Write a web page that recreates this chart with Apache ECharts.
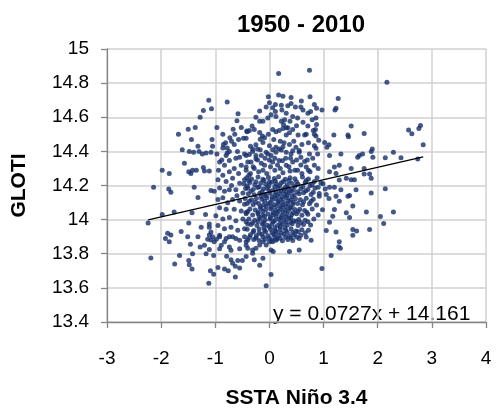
<!DOCTYPE html>
<html>
<head>
<meta charset="utf-8">
<script src="https://cdn.jsdelivr.net/npm/echarts@6/dist/echarts.min.js"></script>
<style>
  html, body { margin: 0; padding: 0; background: #ffffff; }
  #chart { width: 497px; height: 414px; }
</style>
</head>
<body>
<div id="chart"></div>
<script>
// Monthly pairs [SSTA Niño 3.4 (°C), GLOTI (°C)], 1950-2010, grouped by ENSO phase.
const laNinaMonths = [
  [-1.12,14.70],[-0.78,14.69],[-1.22,14.64],[-1.07,14.65],[-1.28,14.60],[-0.58,14.62],[-0.60,14.58],
  [-0.97,14.54],[-1.37,14.54],[-1.50,14.53],[-1.68,14.50],[-1.44,14.47],[-1.06,14.47],[-0.86,14.50],
  [-0.67,14.53],[-0.73,14.48],[-0.85,14.44],[-0.81,14.45],[-0.86,14.42],[-0.78,14.42],[-0.74,14.40],
  [-1.32,14.43],[-1.61,14.41],[-1.48,14.40],[-1.05,14.43],[-0.65,14.44],[-0.59,14.40],[-0.78,14.39],
  [-0.52,14.54],[-1.40,14.395],[-1.30,14.40],[-1.24,14.385],[-1.17,14.39],[-1.08,14.395],
  [-1.57,14.33],[-1.98,14.29],[-1.85,14.27],[-1.49,14.28],[-1.42,14.29],[-1.35,14.29],[-1.45,14.27],
  [-1.22,14.305],[-1.20,14.285],[-1.11,14.285],[-2.14,14.19],[-1.86,14.18],[-1.82,14.16],[-1.39,14.19],
  [-1.32,14.13],[-1.08,14.17],[-1.76,14.045],[-1.98,14.03],[-1.43,14.04],[-1.18,14.03],[-2.24,13.98],
  [-1.49,13.98],[-1.26,13.955],[-1.11,13.955],[-1.88,13.92],[-1.82,13.91],[-1.92,13.89],[-1.85,13.87],
  [-1.63,13.93],[-1.51,13.90],[-1.32,13.90],[-1.11,13.91],[-1.14,13.885],
  [-2.19,13.775],[-1.46,13.855],[-1.75,13.74],[-1.66,13.79],[-1.49,13.76],[-1.48,13.735],[-1.43,13.71],
  [-1.42,13.80],[-1.28,13.84],[-1.20,13.85],[-1.11,13.825],[-1.17,13.80],[-1.08,13.88],[-1.05,13.90],
  [-0.98,13.885],[-0.92,13.90],[-1.03,13.79],[-1.09,13.70],[-1.03,13.68],[-1.12,13.627],[-0.95,13.72],
  [-0.83,13.71],[-0.76,13.70],[-0.92,13.83],[-0.89,13.85],[-0.83,13.87],[-0.74,13.84],[-0.71,13.82],
  [-0.79,13.785],[-0.71,13.765],[-0.68,13.745],[-0.63,13.727],[-0.585,13.76],[-0.50,13.76],[-0.55,13.717],
  [-0.63,13.664],[-0.74,13.90],[-0.62,13.89],[-0.55,13.83],
  [-0.97,14.385],[-0.80,14.376],[-0.74,14.347],[-0.55,14.366],[-0.92,14.338],[-0.83,14.319],
  [-0.94,14.29],[-0.86,14.26],[-0.74,14.28],[-0.65,14.30],[-0.52,14.319],[-0.95,14.233],[-0.80,14.223],
  [-0.68,14.242],[-0.55,14.213],[-0.92,14.185],[-1.02,14.166],[-0.83,14.166],[-0.74,14.175],[-0.62,14.175],
  [-0.95,14.118],[-0.86,14.128],[-0.77,14.099],[-0.68,14.118],[-0.55,14.109],[-0.92,14.07],[-0.80,14.061],
  [-0.65,14.061],[-0.52,14.051],[-0.99,14.023],[-0.86,14.004],[-0.74,14.013],[-0.62,13.994],[-0.95,13.965],
  [-0.83,13.946],[-0.71,13.956],[-0.585,13.937],[-1.08,13.927],[-0.92,13.908],[-0.80,13.889],[-0.68,13.899],
  [-0.55,13.879],[-1.02,13.87],[-1.11,13.975],
  [-0.70,14.46],[-0.62,14.36],[-0.57,14.27],[-0.70,14.20],[-0.60,14.14],[-0.88,14.35],[-0.64,14.50],
  [-0.57,14.47]
];

const neutralMonths = [
  [0.17,14.857],[-0.02,14.72],[0.17,14.73],[0.25,14.723],[0.40,14.716],[0.00,14.685],[0.11,14.675],
  [0.22,14.67],[0.34,14.668],[0.40,14.68],[-0.06,14.66],[-0.18,14.637],[0.06,14.656],[0.11,14.634],
  [0.23,14.643],[0.31,14.624],[0.43,14.605],[0.38,14.576],[0.03,14.614],[0.12,14.605],[-0.12,14.576],
  [-0.03,14.595],[-0.18,14.576],[0.22,14.576],[0.28,14.585],[0.26,14.557],[0.31,14.538],[-0.32,14.548],
  [-0.28,14.528],[-0.37,14.523],[-0.42,14.519],[-0.18,14.51],[-0.13,14.49],[-0.09,14.48],[-0.17,14.471],
  [-0.12,14.452],[0.06,14.528],[0.12,14.515],[0.18,14.523],[0.25,14.534],[0.34,14.538],[0.43,14.528],
  [0.37,14.509],[0.31,14.496],[-0.48,14.477],[-0.43,14.477],[-0.25,14.439],[-0.31,14.414],[-0.37,14.382],
  [-0.43,14.376],[-0.25,14.376],[0.00,14.433],[0.12,14.424],[0.18,14.414],[0.25,14.427],[0.31,14.395],
  [0.40,14.385],[0.49,14.424],[-0.03,14.385],[0.03,14.376],[-0.41,14.515],
  [-0.46,14.385],[-0.40,14.338],[-0.43,14.29],[-0.46,14.233],[-0.38,14.26],[-0.49,14.156],[-0.40,14.185],
  [-0.46,14.09],[-0.43,14.042],[-0.49,14.004],[-0.40,13.975],[-0.46,13.946],[-0.43,13.87],
  [-0.31,14.40],[-0.22,14.414],[-0.34,14.338],[-0.25,14.357],[-0.15,14.376],[-0.06,14.395],[0.12,14.395],
  [0.22,14.408],[0.43,14.404],[-0.43,14.309],[-0.28,14.30],[-0.09,14.318],[0.06,14.338],[0.18,14.347],
  [0.31,14.318],[0.43,14.338],
  [-0.20,14.28],[-0.05,14.27],[0.10,14.29],[0.25,14.275],[0.38,14.285],[-0.35,14.27],[0.00,14.35],
  [0.15,14.32],[0.30,14.36],[-0.15,14.33],
  [-0.30,14.31],[-0.12,14.29],[0.02,14.31],[0.20,14.30],[0.36,14.31],[0.47,14.29],[-0.22,14.35],
  [-0.08,14.36],[0.10,14.36],[0.24,14.345],[0.39,14.36],[-0.35,14.43],[-0.17,14.41],[0.06,14.41],
  [0.27,14.45],[0.37,14.44],[0.45,14.46],[0.08,14.47],[0.20,14.46],[-0.02,14.50],[-0.25,14.60],
  [0.48,14.66],
  [-0.46,13.90],[-0.43,13.85],[-0.40,13.88],[0.37,13.813],[0.03,13.679],[-0.06,13.612],[0.03,13.822],
  [0.07,13.813],[-0.18,13.732],[-0.12,13.774],[-0.28,13.765],[-0.43,13.784],[-0.31,13.822],[-0.25,13.832],
  [-0.18,13.851],[-0.12,13.87],[-0.06,13.851],[0.00,13.87],[0.06,13.87],[0.12,13.879],[-0.31,13.803],
  [-0.40,13.832],
  [-0.42,14.245],[-0.33,14.238],[-0.21,14.25],[-0.12,14.236],[-0.02,14.247],[0.09,14.241],[0.17,14.252],
  [0.29,14.237],[0.38,14.246],[0.47,14.24],
  [-0.38,14.228],[-0.25,14.222],[-0.10,14.229],[0.00,14.221],[0.11,14.227],[0.26,14.224],[0.36,14.23],
  [0.50,14.222],
  [-0.47,14.21],[-0.36,14.217],[-0.27,14.205],[-0.16,14.214],[-0.07,14.207],[0.04,14.219],[0.13,14.209],
  [0.22,14.216],[0.33,14.204],[0.41,14.213],
  [-0.41,14.197],[-0.19,14.192],[-0.01,14.199],[0.10,14.194],[0.19,14.198],[0.30,14.191],[0.47,14.196],
  [-0.44,14.183],[-0.30,14.176],[-0.22,14.188],[-0.11,14.179],[-0.04,14.185],[0.07,14.174],[0.16,14.186],
  [0.26,14.178],[0.35,14.184],[0.44,14.175],
  [-0.34,14.167],[-0.14,14.163],[-0.01,14.169],[0.12,14.162],[0.22,14.168],[0.31,14.164],[0.40,14.169],
  [-0.39,14.152],[-0.28,14.146],[-0.18,14.155],[-0.09,14.148],[0.01,14.156],[0.10,14.145],[0.19,14.153],
  [0.28,14.149],[0.37,14.157],[0.46,14.146],
  [-0.15,14.135],[-0.06,14.14],[0.05,14.132],[0.15,14.138],[0.24,14.131],[0.33,14.14],[0.42,14.134],
  [-0.45,14.124],[-0.33,14.117],[-0.24,14.126],[-0.14,14.119],[-0.05,14.127],[0.05,14.116],[0.12,14.123],
  [0.21,14.118],[0.31,14.128],[0.39,14.115],[0.48,14.122],
  [-0.37,14.107],[-0.26,14.102],[-0.09,14.108],[0.01,14.101],[0.16,14.106],[0.26,14.103],[0.35,14.109],
  [0.44,14.102],
  [-0.41,14.094],[-0.30,14.087],[-0.20,14.095],[-0.11,14.086],[-0.02,14.093],[0.08,14.088],[0.17,14.096],
  [0.25,14.085],[0.34,14.092],[0.43,14.089],
  [-0.17,14.075],[-0.06,14.078],[0.04,14.072],[0.13,14.079],[0.22,14.074],[0.31,14.077],[0.40,14.071],
  [-0.36,14.063],[-0.26,14.056],[-0.16,14.065],[-0.07,14.058],[0.02,14.064],[0.11,14.055],[0.20,14.062],
  [0.29,14.057],[0.38,14.066],[0.47,14.059],
  [-0.40,14.047],[-0.21,14.043],[-0.12,14.049],[0.07,14.042],[0.16,14.048],[0.25,14.044],[0.35,14.05],
  [0.44,14.041],
  [-0.43,14.034],[-0.31,14.027],[-0.21,14.035],[-0.12,14.026],[-0.03,14.033],[0.06,14.028],[0.14,14.036],
  [0.23,14.025],[0.32,14.031],[0.41,14.029],[0.50,14.034],
  [-0.19,14.015],[-0.09,14.019],[0.02,14.012],[0.12,14.018],[0.21,14.013],[0.30,14.017],[0.39,14.011],
  [-0.38,14.003],[-0.27,13.996],[-0.17,14.005],[-0.08,13.997],[0.01,14.004],[0.10,13.995],[0.18,14.002],
  [0.27,13.998],[0.36,14.006],[0.45,13.994],
  [-0.43,13.987],[-0.31,13.982],[-0.21,13.989],[-0.11,13.983],[0.07,13.988],[0.20,13.981],[0.31,13.986],
  [0.40,13.984],[0.50,13.989],
  [-0.34,13.972],[-0.23,13.966],[-0.13,13.975],[-0.04,13.967],[0.05,13.974],[0.15,13.965],[0.24,13.973],
  [0.33,13.968],[0.42,13.976],
  [-0.10,13.955],[0.00,13.958],[0.10,13.952],[0.20,13.957],[0.29,13.953],
  [-0.41,13.943],[-0.29,13.936],[-0.19,13.945],[-0.09,13.937],[0.02,13.944],[0.11,13.935],[0.20,13.942],
  [0.30,13.938],[0.40,13.946],[0.49,13.934],
  [-0.30,13.927],[-0.19,13.922],[-0.07,13.929],[0.05,13.923],[0.13,13.928],[0.22,13.921],[0.33,13.926],
  [0.43,13.924],
  [-0.35,13.912],[-0.24,13.906],[-0.14,13.914],[-0.03,13.905],[0.08,13.913],[0.17,13.907],[0.27,13.915],
  [0.37,13.904],[0.46,13.911],
  [-0.37,13.897],[-0.25,13.892],[-0.12,13.899],[0.00,13.893],[0.10,13.898],[0.20,13.891],[0.30,13.896],
  [0.40,13.894],[0.50,13.898],
  [-0.29,13.883],[-0.19,13.877],[-0.08,13.885],[0.04,13.879],[0.14,13.886],[0.24,13.876],[0.34,13.884],
  [0.43,13.878]
];

const elNinoMonths = [
  [0.74,14.876],[1.27,14.71],[1.23,14.653],[1.21,14.643],[0.75,14.72],[0.59,14.695],[0.58,14.66],
  [0.62,14.643],[0.83,14.675],[0.87,14.653],[0.97,14.643],[0.76,14.634],[0.71,14.624],[0.52,14.595],
  [0.79,14.585],[0.86,14.595],[0.87,14.557],[0.85,14.528],[0.83,14.50],[0.86,14.49],[0.81,14.523],
  [0.71,14.548],[0.68,14.50],[0.53,14.496],[0.65,14.496],[0.91,14.465],[1.02,14.452],[1.10,14.439],
  [1.06,14.424],[1.19,14.496],[1.45,14.496],[1.46,14.485],[1.51,14.548],[0.55,14.405],[0.83,14.433],
  [0.86,14.419],[1.32,14.385],[0.50,14.55],[0.62,14.57],
  [2.17,14.805],[1.75,14.505],[2.57,14.525],[2.63,14.504],[2.76,14.534],[2.79,14.551],[2.84,14.439],
  [1.90,14.414],[1.88,14.399],[1.72,14.385],[1.66,14.376],[2.29,14.395],[1.63,14.366],[1.91,14.366],
  [2.14,14.362],[2.43,14.362],[2.74,14.356],[1.51,14.30],[1.75,14.30],[1.75,14.267],[1.85,14.267],
  [1.88,14.242],[1.51,14.233],[1.57,14.233],[1.60,14.175],[1.88,14.156],[2.14,14.181],[1.48,14.141],
  [1.79,14.045],[2.29,14.045],[2.05,14.019],[2.11,13.978],[1.48,14.013],[1.54,13.942],[1.61,13.933],
  [1.85,13.942],
  [0.55,14.395],[0.74,14.385],[0.89,14.385],[0.52,14.29],[0.68,14.309],[0.83,14.318],[1.11,14.376],
  [1.20,14.309],[1.29,14.318],[1.11,14.28],[1.23,14.27],[1.42,14.242],[1.29,14.232],
  [0.60,14.27],[0.75,14.28],[0.50,14.35],[0.65,14.34],[0.58,14.32],[0.72,14.29],[0.90,14.30],
  [0.58,14.365],[0.70,14.35],[0.80,14.36],[0.60,14.44],[0.72,14.45],
  [1.20,14.19],[1.32,14.175],[1.45,14.137],[1.23,14.137],[1.29,14.108],[1.54,14.08],[1.42,14.04],
  [1.20,14.06],[1.17,14.02],[1.11,13.984],[1.05,13.936],[1.23,13.927],[1.29,13.87],[1.54,13.908],
  [0.99,14.21],[1.11,14.19],[0.92,14.137],[1.05,14.147],
  [1.28,13.841],[1.31,13.832],[1.14,13.79],[0.97,13.713],[0.55,13.822],[0.55,13.889],[0.68,13.898],
  [0.77,13.879],
  [0.61,14.25],[0.72,14.238],[0.88,14.246],
  [0.68,14.229],[0.83,14.223],
  [0.53,14.208],[0.66,14.218],[0.79,14.205],[0.95,14.214],
  [0.62,14.193],[0.75,14.199],[0.90,14.19],
  [0.58,14.181],[0.71,14.176],[0.84,14.185],[1.03,14.179],
  [0.52,14.163],[0.67,14.168],[0.81,14.161],
  [0.55,14.151],[0.63,14.158],[0.77,14.147],[0.92,14.153],
  [0.57,14.117],[0.68,14.126],[0.81,14.119],[1.10,14.124],
  [0.63,14.105],[0.77,14.108],
  [0.52,14.095],[0.61,14.087],[0.74,14.093],[0.87,14.086],
  [0.56,14.061],[0.65,14.054],[0.79,14.063],[0.98,14.058],
  [0.53,14.047],[0.69,14.043],
  [0.60,14.026],[0.71,14.032],[0.90,14.027],
  [0.54,14.001],[0.66,13.997],[0.82,14.004],
  [0.58,13.983],[0.71,13.987],
  [0.53,13.966],[0.63,13.972],[0.76,13.969],
  [0.60,13.941],[0.72,13.937],
  [0.53,13.929],[0.66,13.922],
  [0.58,13.909]
];

// Least-squares fit reported on the chart
const trendSlope = 0.0727;
const trendIntercept = 14.161;

const allMonths = laNinaMonths.concat(neutralMonths, elNinoMonths);
const xs = allMonths.map(p => p[0]);
const xMin = Math.min.apply(null, xs);
const xMax = Math.max.apply(null, xs);
const trendLine = [xMin, xMax].map(x => [x, trendIntercept + trendSlope * x]);

const FONT = "'Liberation Sans', Arial, sans-serif";
const DOT = '#17306c';
const AXIS = '#868686';
const GRID = '#d0d0d0';

const dotSeries = data => ({
  type: 'scatter',
  data: data,
  symbol: 'circle',
  symbolSize: 5,
  itemStyle: { color: DOT },
  emphasis: { disabled: true },
  silent: true
});

const chart = echarts.init(document.getElementById('chart'), null, { renderer: 'canvas' });
chart.setOption({
  animation: false,
  backgroundColor: '#ffffff',
  title: {
    text: '1950 - 2010',
    left: 296,
    top: 8,
    textAlign: 'center',
    textStyle: { fontFamily: FONT, fontWeight: 'bold', fontSize: 24, color: '#000' }
  },
  grid: { left: 107, right: 11, top: 49, bottom: 85 },
  xAxis: {
    type: 'value',
    min: -3, max: 4, interval: 1,
    name: 'SSTA Niño 3.4',
    nameLocation: 'middle',
    nameGap: 66,
    nameTextStyle: { fontFamily: FONT, fontWeight: 'bold', fontSize: 21, color: '#000' },
    axisLine: { show: true, onZero: false, lineStyle: { color: AXIS, width: 1.3 } },
    axisTick: { show: true, length: 6, lineStyle: { color: AXIS, width: 1.3 } },
    axisLabel: { margin: 27, fontFamily: FONT, fontSize: 19, color: '#000' },
    splitLine: { show: true, lineStyle: { color: GRID, width: 1.5 } }
  },
  yAxis: {
    type: 'value',
    min: 13.4, max: 15, interval: 0.2,
    name: 'GLOTI',
    nameLocation: 'middle',
    nameGap: 77,
    nameRotate: 90,
    nameTextStyle: { fontFamily: FONT, fontWeight: 'bold', fontSize: 21, color: '#000' },
    axisLine: { show: true, onZero: false, lineStyle: { color: AXIS, width: 1.3 } },
    axisTick: { show: true, length: 6, lineStyle: { color: AXIS, width: 1.3 } },
    axisLabel: {
      margin: 18, fontFamily: FONT, fontSize: 19, color: '#000',
      formatter: v => String(+v.toFixed(1))
    },
    splitLine: { show: true, lineStyle: { color: GRID, width: 1.5 } }
  },
  graphic: [{
    type: 'text',
    left: 273,
    top: 304,
    style: {
      text: 'y = ' + trendSlope + 'x + ' + trendIntercept,
      fontFamily: FONT,
      fontSize: 21,
      fill: '#000'
    }
  }],
  series: [
    dotSeries(laNinaMonths),
    dotSeries(neutralMonths),
    dotSeries(elNinoMonths),
    {
      type: 'line',
      data: trendLine,
      symbol: 'none',
      lineStyle: { color: '#000', width: 1.3 },
      silent: true,
      z: 5
    }
  ]
});
</script>
</body>
</html>
